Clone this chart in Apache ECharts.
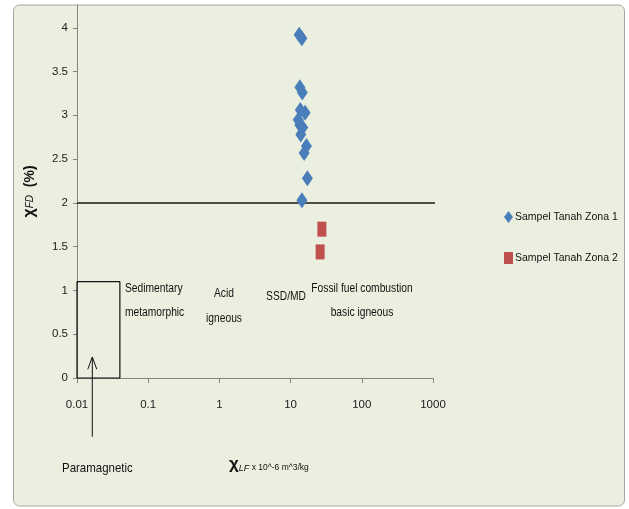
<!DOCTYPE html>
<html><head><meta charset="utf-8">
<script src="https://cdn.jsdelivr.net/npm/echarts@6/dist/echarts.min.js"></script>
<style>html,body{margin:0;padding:0;background:#fff}#c{width:629px;height:509px}</style>
</head><body><div id="c"></div>
<script>
// ---- data ----
const zona1X = [13.2, 14.4, 13.5, 14.6, 13.7, 16.0, 12.8, 13.5, 14.8, 13.9, 16.7, 15.5, 17.2, 14.4];
const zona1Y = [3.92, 3.88, 3.32, 3.26, 3.06, 3.03, 2.95, 2.89, 2.86, 2.78, 2.65, 2.57, 2.28, 2.03];
const zona2X = [27.5, 26.0];
const zona2Y = [1.70, 1.44];
const seriesNames = ['Sampel Tanah Zona 1', 'Sampel Tanah Zona 2'];
const xTicks = [0.01, 0.1, 1, 10, 100, 1000];
const yTicks = [0, 0.5, 1, 1.5, 2, 2.5, 3, 3.5, 4];
// annotation geometry (data units)
const thresholdX = [0.01, 1400];
const thresholdY = [2, 2];
const boxX = [0.01, 0.04, 0.04, 0.01, 0.01];
const boxY = [0, 0, 1.1, 1.1, 0];
const arrowShaftX = [0.0164, 0.0164];
const arrowShaftY = [-0.67, 0.24];
const arrowHeadX = [0.01416, 0.0164, 0.01896];
const arrowHeadY = [0.10, 0.24, 0.10];

const zip = (a, b) => a.map((v, i) => [v, b[i]]);
const FONT = "'Liberation Sans', Arial, sans-serif";

const chart = echarts.init(document.getElementById('c'), null, {renderer: 'canvas'});
const lineStyleSeries = (name, xs, ys, color, width) => ({
  name, type: 'line', data: zip(xs, ys), symbol: 'none', clip: false, silent: true,
  lineStyle: {color, width}, z: 1, animation: false
});
const note = (text, x, y, align, lh, size, sx) => ({
  type: 'text', x, y, scaleX: sx, z: 5,
  style: {text, font: size + 'px ' + FONT, fill: '#111', align, verticalAlign: 'middle', lineHeight: lh}
});

chart.setOption({
  animation: false,
  textStyle: {fontFamily: FONT},
  graphic: [
    {type: 'rect', z: -10, shape: {x: 13.5, y: 5, width: 611, height: 501, r: 6},
     style: {fill: '#EBEFDF', stroke: '#A6A6A6', lineWidth: 1}},
    note('Sedimentary\nmetamorphic', 125, 301, 'left', 24, 12.5, 0.82),
    note('Acid\nigneous', 224, 306.5, 'center', 25, 12.5, 0.82),
    note('SSD/MD', 286, 297, 'center', 14, 12.5, 0.82),
    note('Fossil fuel combustion\nbasic igneous', 362, 301, 'center', 24, 12.5, 0.82),
    note('Paramagnetic', 62, 468, 'left', 14, 13.5, 0.85),
    {type: 'text', x: 229, y: 464, z: 5, style: {
      text: '{a|χ}{b|LF}{c| x 10^-6 m^3/kg}', verticalAlign: 'middle',
      rich: {
        a: {font: 'bold 17px ' + FONT, fill: '#111', verticalAlign: 'bottom'},
        b: {font: 'italic 9px ' + FONT, fill: '#111', verticalAlign: 'bottom'},
        c: {font: '8.5px ' + FONT, fill: '#111', verticalAlign: 'bottom'}
      }
    }}
  ],
  grid: {left: 77, right: 196, top: 5, bottom: 131, containLabel: false},
  legend: {
    orient: 'vertical', left: 504, top: 211, padding: 0, itemGap: 29, itemWidth: 9, itemHeight: 12,
    data: [{name: seriesNames[0], icon: 'diamond'}, {name: seriesNames[1], icon: 'rect'}],
    textStyle: {fontFamily: FONT, fontSize: 10.5, color: '#111', padding: [0, 0, 0, -3]}
  },
  xAxis: {
    type: 'log', logBase: 10, min: xTicks[0], max: xTicks[xTicks.length - 1],
    axisLine: {show: true, lineStyle: {color: '#868686'}},
    axisTick: {show: true, length: 5, inside: false, lineStyle: {color: '#868686'}},
    axisLabel: {margin: 21, fontSize: 11.5, color: '#222', fontFamily: FONT,
      formatter: v => { const t = xTicks.find(k => Math.abs(Math.log10(k) - Math.log10(v)) < 1e-6); return t === undefined ? '' : String(t); }},
    splitLine: {show: false}, minorTick: {show: false}
  },
  yAxis: {
    type: 'value', min: yTicks[0], max: 4.26, interval: 0.5,
    axisLine: {show: true, lineStyle: {color: '#868686'}},
    axisTick: {show: true, length: 4, lineStyle: {color: '#868686'}},
    axisLabel: {margin: 9, fontSize: 11.5, color: '#222', fontFamily: FONT, showMaxLabel: false,
      formatter: v => yTicks.includes(+v.toFixed(2)) ? String(+v.toFixed(2)) : ''},
    splitLine: {show: false},
    name: '{a|χ}{b|FD}{c|  (%)}', nameLocation: 'middle', nameRotate: 90, nameGap: 39,
    nameTextStyle: {rich: {
      a: {fontFamily: FONT, fontWeight: 'bold', fontSize: 16, color: '#111'},
      b: {fontFamily: FONT, fontStyle: 'italic', fontSize: 10, color: '#111'},
      c: {fontFamily: FONT, fontWeight: 'bold', fontSize: 14, color: '#111'}
    }}
  },
  series: [
    lineStyleSeries('threshold', thresholdX, thresholdY, '#1a1a1a', 1.5),
    lineStyleSeries('box', boxX, boxY, '#111', 1.2),
    lineStyleSeries('arrow', arrowShaftX, arrowShaftY, '#111', 1),
    lineStyleSeries('arrowhead', arrowHeadX, arrowHeadY, '#111', 1),
    {name: seriesNames[0], type: 'scatter', data: zip(zona1X, zona1Y), symbol: 'diamond',
     symbolSize: [11, 16], itemStyle: {color: '#4A7EBB', opacity: 1}, z: 3},
    {name: seriesNames[1], type: 'scatter', data: zip(zona2X, zona2Y), symbol: 'rect',
     symbolSize: [9, 15], itemStyle: {color: '#C0504D', opacity: 1}, z: 3}
  ]
});
</script></body></html>
